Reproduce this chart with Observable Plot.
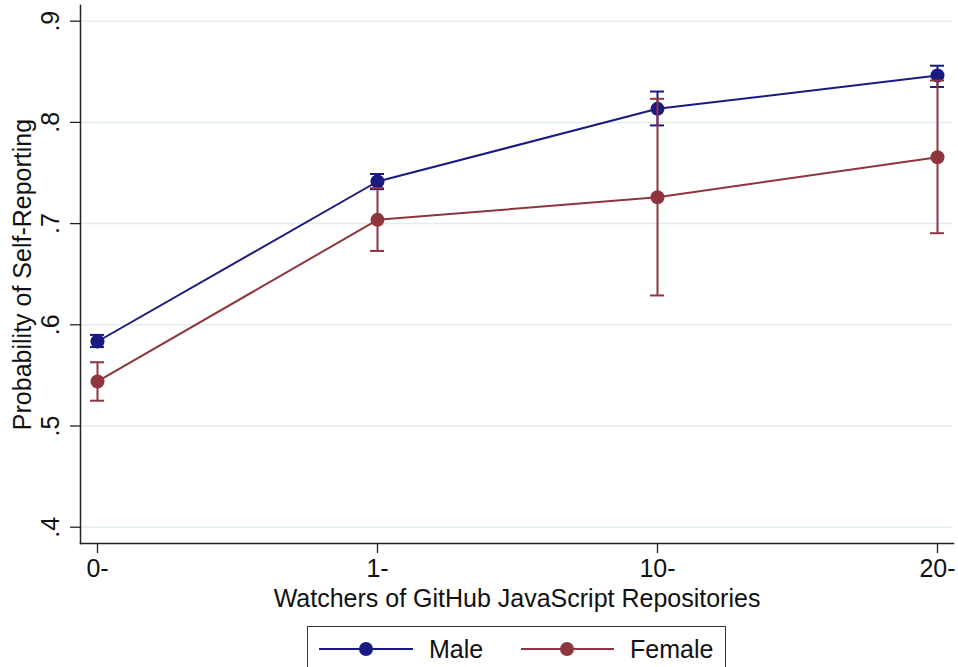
<!DOCTYPE html>
<html>
<head>
<meta charset="utf-8">
<script src="https://cdn.jsdelivr.net/npm/d3@7"></script>
<script src="https://cdn.jsdelivr.net/npm/@observablehq/plot@0.6"></script>
<style>
  body { margin: 0; background: #fff; }
  #wrap { position: relative; width: 958px; height: 667px; overflow: hidden; font-family: "Liberation Sans", Arial, Helvetica, sans-serif; }
  #legend { position: absolute; left: 307px; top: 626px; width: 419px; height: 60px; border: 1.3px solid #333; box-sizing: border-box; background: #fff; }
</style>
</head>
<body>
<div id="wrap"><div id="chart"></div><div id="legend"></div></div>
<script>
const categories = ["0-", "1-", "10-", "20-"];
const seriesNames = ["Male", "Female"];
const maleValue = [0.5835, 0.7416, 0.8134, 0.8463];
const maleLow   = [0.578, 0.734, 0.797, 0.835];
const maleHigh  = [0.590, 0.749, 0.8305, 0.856];
const femaleValue = [0.544, 0.7037, 0.726, 0.7656];
const femaleLow   = [0.525, 0.673, 0.629, 0.6905];
const femaleHigh  = [0.563, 0.735, 0.8233, 0.8414];
const yTicks = [0.4, 0.5, 0.6, 0.7, 0.8, 0.9];
const colors = ["#1a1a80", "#8f353d"];

const rows = [];
categories.forEach((c, i) => rows.push({i, cat: c, series: "Male", v: maleValue[i], lo: maleLow[i], hi: maleHigh[i]}));
categories.forEach((c, i) => rows.push({i, cat: c, series: "Female", v: femaleValue[i], lo: femaleLow[i], hi: femaleHigh[i]}));

const capHalf = 0.025;
const fmt = d => String(d).replace(/^0\./, ".");
const font = "Liberation Sans, Arial, Helvetica, sans-serif";
const FS = 25;

const seriesMarks = [];
seriesNames.forEach((s, k) => {
  const d = rows.filter(r => r.series === s);
  const col = colors[k];
  seriesMarks.push(
    Plot.ruleX(d, {x: "i", y1: "lo", y2: "hi", stroke: col, strokeWidth: 2}),
    Plot.ruleY(d, {y: "hi", x1: r => r.i - capHalf, x2: r => r.i + capHalf, stroke: col, strokeWidth: 2}),
    Plot.ruleY(d, {y: "lo", x1: r => r.i - capHalf, x2: r => r.i + capHalf, stroke: col, strokeWidth: 2}),
    Plot.line(d, {x: "i", y: "v", stroke: col, strokeWidth: 2}),
    Plot.dot(d, {x: "i", y: "v", r: 7, fill: col, stroke: "none"})
  );
});

const chart = Plot.plot({
  width: 958,
  height: 620,
  marginLeft: 80,
  marginRight: 5,
  marginTop: 5,
  marginBottom: 77,
  style: {fontFamily: font, fontSize: FS + "px", background: "#fff", color: "#111"},
  x: {type: "linear", domain: [-17 / 280, 3 + 16 / 280]},
  y: {domain: [0.3839, 0.9155]},
  marks: [
    Plot.gridY(yTicks, {stroke: "#e3edef", strokeOpacity: 1, strokeWidth: 1.5}),
    Plot.axisY({ticks: yTicks, tickSize: 10, tickFormat: () => "", label: null, stroke: "#222", strokeWidth: 1.3}),
    Plot.text(yTicks, {y: d => d, text: fmt, frameAnchor: "left", dx: -30, rotate: -90, fontSize: FS, fill: "#111", lineAnchor: "middle", textAnchor: "middle"}),
    Plot.axisX({ticks: [0, 1, 2, 3], tickFormat: i => categories[i], tickSize: 10, tickPadding: 6, fontSize: FS, label: null, stroke: "#222", strokeWidth: 1.3}),
    Plot.frame({anchor: "left", stroke: "#222", strokeWidth: 1.5}),
    Plot.frame({anchor: "bottom", stroke: "#222", strokeWidth: 1.5}),
    Plot.text(["Watchers of GitHub JavaScript Repositories"], {frameAnchor: "bottom", dy: 55, lineAnchor: "middle", fontSize: FS, fill: "#111"}),
    Plot.text(["Probability of Self-Reporting"], {frameAnchor: "left", dx: -58, rotate: -90, lineAnchor: "middle", textAnchor: "middle", fontSize: FS, fill: "#111"}),
    ...seriesMarks
  ]
});
document.getElementById("chart").appendChild(chart);

// Legend
const ns = "http://www.w3.org/2000/svg";
const lg = document.createElementNS(ns, "svg");
lg.setAttribute("width", 417);
lg.setAttribute("height", 58);
const entries = [
  {name: seriesNames[0], x1: 11, x2: 105, cx: 58, tx: 121, color: colors[0]},
  {name: seriesNames[1], x1: 213, x2: 306, cx: 259, tx: 322, color: colors[1]}
];
entries.forEach(e => {
  const l = document.createElementNS(ns, "line");
  l.setAttribute("x1", e.x1); l.setAttribute("x2", e.x2);
  l.setAttribute("y1", 22); l.setAttribute("y2", 22);
  l.setAttribute("stroke", e.color); l.setAttribute("stroke-width", 2);
  lg.appendChild(l);
  const c = document.createElementNS(ns, "circle");
  c.setAttribute("cx", e.cx); c.setAttribute("cy", 22); c.setAttribute("r", 7);
  c.setAttribute("fill", e.color);
  lg.appendChild(c);
  const t = document.createElementNS(ns, "text");
  t.setAttribute("x", e.tx); t.setAttribute("y", 22);
  t.setAttribute("dy", "0.36em");
  t.setAttribute("font-size", FS);
  t.setAttribute("font-family", font);
  t.setAttribute("fill", "#111");
  t.textContent = e.name;
  lg.appendChild(t);
});
document.getElementById("legend").appendChild(lg);
</script>
</body>
</html>
